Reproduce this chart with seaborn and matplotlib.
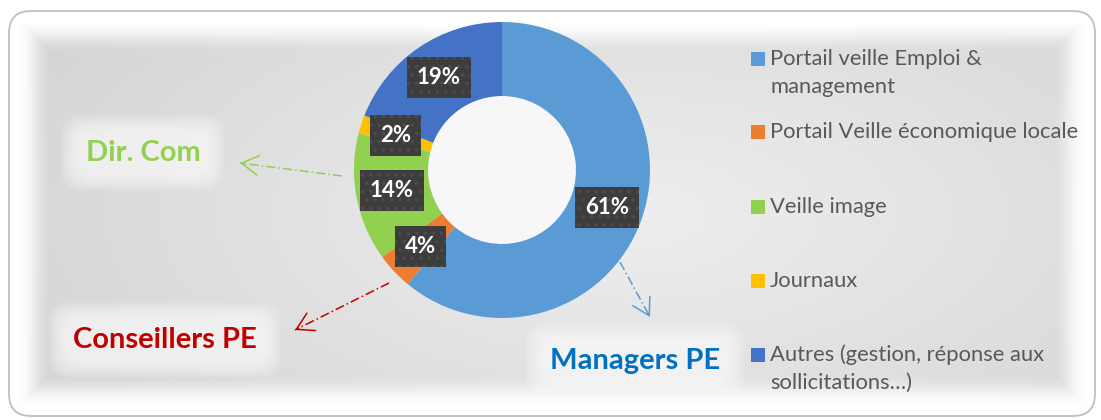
import numpy as np
import matplotlib
matplotlib.use("Agg")
import matplotlib.pyplot as plt
from matplotlib.patches import FancyBboxPatch, Rectangle, Circle
import seaborn as sns

# ---- data ----
categories = ["Portail veille Emploi &\nmanagement",
              "Portail Veille économique locale",
              "Veille image",
              "Journaux",
              "Autres (gestion, réponse aux\nsollicitations…)"]
values = [61, 4, 14, 2, 19]
colors = ["#5B9BD5", "#ED7D31", "#92D050", "#FFC000", "#4472C4"]

callouts = ["Dir. Com", "Conseillers PE", "Managers PE"]
callout_colors = ["#92D050", "#C00000", "#0070C0"]
arrow_colors = ["#92D050", "#C00000", "#5B9BD5"]

sns.set_theme(style="white")
plt.rcParams["font.family"] = ["Lato", "DejaVu Sans"]

W, H = 1101, 420
fig = plt.figure(figsize=(W / 100, H / 100), dpi=100)
fig.patch.set_facecolor("white")

# ---- background panel ----
bg = fig.add_axes([0, 0, 1, 1])
bg.set_xlim(0, W)
bg.set_ylim(H, 0)
bg.axis("off")

yy, xx = np.mgrid[0:H, 0:W] + 0.5
x0, x1, y0, y1 = 9, 1095, 11, 416
d = np.minimum.reduce([xx - x0, x1 - xx, yy - y0, y1 - yy])
e = np.clip((d - 10) / 32, 0, 1)
e = e * e * (3 - 2 * e)
r = np.sqrt(((xx - 640) / 560) ** 2 + ((yy - 215) / 260) ** 2)
base = 0.935 - 0.08 * np.clip(r, 0, 1.2)
val = 1 - e * (1 - base)
img = np.dstack([val, val, val])
frame = FancyBboxPatch((x0, y0), x1 - x0, y1 - y0,
                       boxstyle="round,pad=0,rounding_size=22",
                       facecolor="none", edgecolor="#BFBFBF", linewidth=1.3,
                       transform=bg.transData, zorder=3)
im = bg.imshow(img, extent=(0, W, H, 0), zorder=1, interpolation="bilinear")
bg.add_patch(frame)
im.set_clip_path(frame)

# ---- donut ----
cx, cy, R = 502, 170, 148
side = 300
ax = fig.add_axes([(cx - side / 2) / W, (H - cy - side / 2) / H, side / W, side / H])
ax.patch.set_alpha(0)

wedges, _ = ax.pie(values, colors=sns.color_palette(colors), startangle=90,
                   counterclock=False, radius=1.0,
                   wedgeprops=dict(width=0.5, edgecolor="none"))
ax.add_patch(Circle((0, 0), 0.5, facecolor="#F7F7F7", edgecolor="none", zorder=0))
lim = side / 2 / R
ax.set_xlim(-lim, lim)
ax.set_ylim(-lim, lim)
ax.set_aspect("equal")
ax.axis("off")

plt.rcParams["hatch.linewidth"] = 1.3
for w, v in zip(wedges, values):
    ang = np.deg2rad((w.theta1 + w.theta2) / 2)
    rr = 0.757
    ax.text(rr * np.cos(ang), rr * np.sin(ang), f"{v}%",
            ha="center", va="center", color="white", fontsize=16,
            fontweight="bold", zorder=5,
            bbox=dict(boxstyle="square,pad=0.45", facecolor="#3D3D3D",
                      edgecolor="#4C4C4C", linewidth=0, hatch=".."))

# ---- legend ----
lx_sq, lx_txt = 751, 770
base_y = [65, 138, 213, 287, 361]
for lab, col, by in zip(categories, colors, base_y):
    bg.add_patch(Rectangle((lx_sq, by - 13.5), 14, 14, facecolor=col,
                           edgecolor="none", zorder=4))
    for i, line in enumerate(lab.split("\n")):
        bg.text(lx_txt, by + i * 28, line, ha="left", va="baseline",
                fontsize=15.8, color="#595959", zorder=4)

# ---- callouts ----
text_pos = [(143, 153), (165, 340), (635, 361)]
tails = [(342, 176), (389, 283), (620, 262)]
heads = [(240, 163), (295, 330), (650, 317)]
pads = np.linspace(0.85, 0.3, 12)
for txt, tc, ac, tp, tl, hd in zip(callouts, callout_colors, arrow_colors,
                                   text_pos, tails, heads):
    for k, p in enumerate(pads):
        bg.text(tp[0], tp[1], txt, ha="center", va="center", fontsize=21,
                fontweight="bold", color=tc,
                alpha=0.0 if k < len(pads) - 1 else 1.0, zorder=4,
                bbox=dict(boxstyle="round,pad=%.3f,rounding_size=0.7" % p,
                          facecolor="white", edgecolor="none", alpha=0.09))
    bg.plot([tl[0], hd[0]], [tl[1], hd[1]], color=ac, lw=1.1,
            ls=(0, (6, 2, 1, 2)), zorder=4)
    vx, vy = hd[0] - tl[0], hd[1] - tl[1]
    n = np.hypot(vx, vy)
    pre = (hd[0] - vx / n * 4, hd[1] - vy / n * 4)
    bg.annotate("", xy=hd, xytext=pre, zorder=4,
                arrowprops=dict(arrowstyle="->,head_length=0.6,head_width=0.35",
                                color=ac, lw=1.1, mutation_scale=20,
                                shrinkA=0, shrinkB=0))

fig.savefig("out.png", dpi=100, facecolor="white")
